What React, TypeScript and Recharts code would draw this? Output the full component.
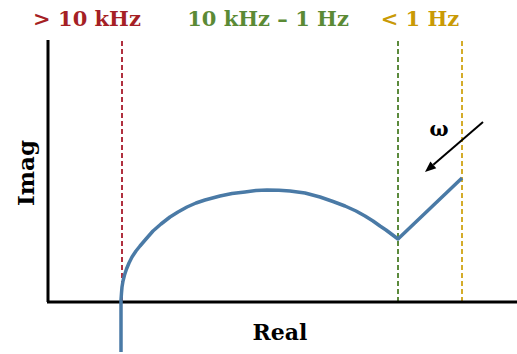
import React from 'react';
import { LineChart, Line, XAxis, YAxis, ReferenceLine, ReferenceDot } from 'recharts';

// Nyquist curve (Real, Imag)
const realValues = [74, 74, 74.5, 75, 76, 77.5, 79.5, 82, 85, 89, 93, 99, 106, 114, 123, 131, 140, 149, 158, 173, 185, 198, 209, 220, 232, 243, 258, 273, 286, 298, 309, 318, 326, 333, 339, 345, 351, 415];
const imagValues = [-50, 2, 9, 15, 21, 27, 33, 39, 45, 51, 56, 63, 71, 78, 85, 90, 95, 99, 102, 106, 108.5, 110, 111.5, 112, 111.7, 111, 109, 105, 100.5, 96, 91, 86, 81, 76, 72, 67.5, 63, 124];

// frequency-region boundaries (Real)
const boundaryReal = [75, 351, 415];
const boundaryLabels = ['> 10 kHz', '10 kHz \u2013 1 Hz', '< 1 Hz'];
const boundaryColors = ['#b0303f', '#5b8a3c', '#d4ac2a'];
const labelColors = ['#a51f25', '#5b8a35', '#c99a06'];

const axisTitles = { x: 'Real', y: 'Imag' };
const omegaLabel = '\u03c9';

const data = realValues.map((r, i) => ({ re: r, im: imagValues[i] }));

const FONT = '"DejaVu Serif", serif';

export default function App() {
  const labelX = [40, 221, 373];
  return (
    <div style={{ position: 'absolute', left: 0, top: 0, width: 517, height: 354, background: '#fff' }}>
      <LineChart width={517} height={354} data={data} margin={{ top: 40, right: 0, left: 47, bottom: 2 }}>
        <XAxis type="number" dataKey="re" domain={[0, 470]} hide />
        <YAxis type="number" domain={[-50, 262]} hide />
        {boundaryReal.map((x, i) => (
          <ReferenceLine
            key={'b' + i}
            segment={[{ x, y: 0 }, { x, y: 262 }]}
            stroke={boundaryColors[i]}
            strokeWidth={2}
            strokeDasharray="5 3"
          />
        ))}
        <ReferenceLine y={0} stroke="#000" strokeWidth={3} />
        <ReferenceLine segment={[{ x: 1, y: 0 }, { x: 1, y: 262 }]} stroke="#000" strokeWidth={3} />
        <Line
          type="linear"
          dataKey="im"
          stroke="#4a7aa6"
          strokeWidth={3.5}
          dot={false}
          isAnimationActive={false}
          strokeLinejoin="round"
        />
        <ReferenceLine
          segment={[{ x: 436, y: 180 }, { x: 378, y: 130 }]}
          ifOverflow="visible"
          shape={(p: any) => {
            const { x1, y1, x2, y2 } = p;
            const ang = Math.atan2(y2 - y1, x2 - x1);
            const L = 11, W = 4.5;
            const bx = x2 - L * Math.cos(ang), by = y2 - L * Math.sin(ang);
            const px = -Math.sin(ang) * W, py = Math.cos(ang) * W;
            return (
              <g>
                <line x1={x1} y1={y1} x2={bx} y2={by} stroke="#000" strokeWidth={2} />
                <polygon points={`${x2},${y2} ${bx + px},${by + py} ${bx - px},${by - py}`} fill="#000" />
              </g>
            );
          }}
        />
        <ReferenceDot
          x={392}
          y={173}
          ifOverflow="visible"
          shape={(p: any) => (
            <text x={p.cx} y={p.cy} textAnchor="middle" dominantBaseline="central" fontFamily={FONT} fontSize={20} fontWeight="bold" fill="#000">
              {omegaLabel}
            </text>
          )}
        />
        {boundaryLabels.map((t, i) => (
          <ReferenceDot
            key={'l' + i}
            x={labelX[i]}
            y={284}
            ifOverflow="visible"
            shape={(p: any) => (
              <text x={p.cx} y={p.cy} textAnchor="middle" dominantBaseline="central" fontFamily={FONT} fontSize={21} fontWeight="bold" fill={labelColors[i]}>
                {t}
              </text>
            )}
          />
        ))}
        <ReferenceDot
          x={233}
          y={-30}
          ifOverflow="visible"
          shape={(p: any) => (
            <text x={p.cx} y={p.cy} textAnchor="middle" dominantBaseline="central" fontFamily={FONT} fontSize={22} fontWeight="bold" fill="#000">
              {axisTitles.x}
            </text>
          )}
        />
        <ReferenceDot
          x={-22}
          y={129}
          ifOverflow="visible"
          shape={(p: any) => (
            <text x={p.cx} y={p.cy} textAnchor="middle" dominantBaseline="central" fontFamily={FONT} fontSize={23} fontWeight="bold" fill="#000" transform={`rotate(-90 ${p.cx} ${p.cy})`}>
              {axisTitles.y}
            </text>
          )}
        />
      </LineChart>
    </div>
  );
}
